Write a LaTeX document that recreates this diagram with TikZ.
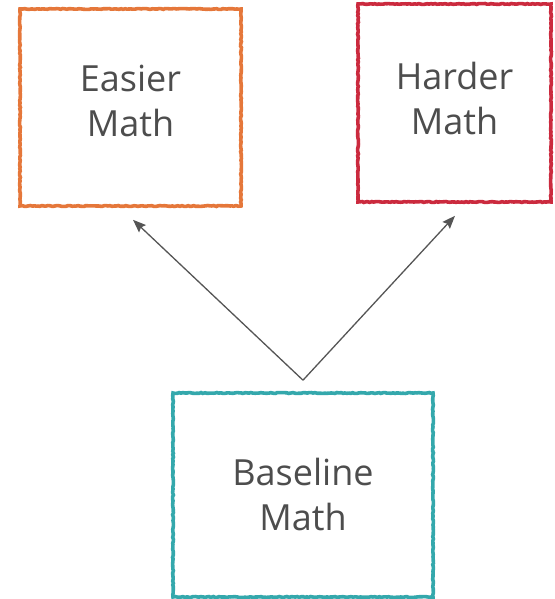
\documentclass[tikz,border=0pt]{standalone}
\usepackage{fontspec}
\setmainfont{Open Sans}
\usepackage{xcolor}
\usetikzlibrary{arrows.meta}
\usetikzlibrary{decorations.pathmorphing}
\definecolor{easyorange}{RGB}{229,119,58}
\definecolor{hardred}{RGB}{203,42,62}
\definecolor{baseteal}{RGB}{52,168,172}
\definecolor{textgray}{RGB}{77,77,77}
\definecolor{arrowgray}{RGB}{85,85,85}

\begin{document}
\begin{tikzpicture}[x=1pt,y=1pt,
		mathbox/.style={draw, line width=3.6pt, inner sep=0pt, align=center,
			text=textgray, font=\fontsize{36}{45}\selectfont,
			decorate, decoration={random steps, segment length=2pt, amplitude=0.45pt}},
		growth/.style={draw=arrowgray, line width=1.3pt, -{Stealth[length=13pt,width=10pt,inset=2pt]}}]
		\useasboundingbox (0,0) rectangle (554,599);
		% the three levels
		\node[mathbox, draw=easyorange, minimum width=221pt, minimum height=197pt, text depth=14pt] (easier) at (130.5,491.5) {Easier\\Math};
		\node[mathbox, draw=hardred, minimum width=193pt, minimum height=198pt, text depth=9pt] (harder) at (454.5,496) {Harder\\Math};
		\node[mathbox, draw=baseteal, minimum width=260pt, minimum height=204pt] (baseline) at (303,104) {Baseline\\Math};
		% branching up from the baseline
		\draw[growth] ([yshift=11pt]baseline.north) -- ([xshift=2.5pt,yshift=-12pt]easier.south);
		\draw[growth] ([yshift=11pt]baseline.north) -- ([xshift=0.5pt,yshift=-12pt]harder.south);
\end{tikzpicture}
\end{document}
